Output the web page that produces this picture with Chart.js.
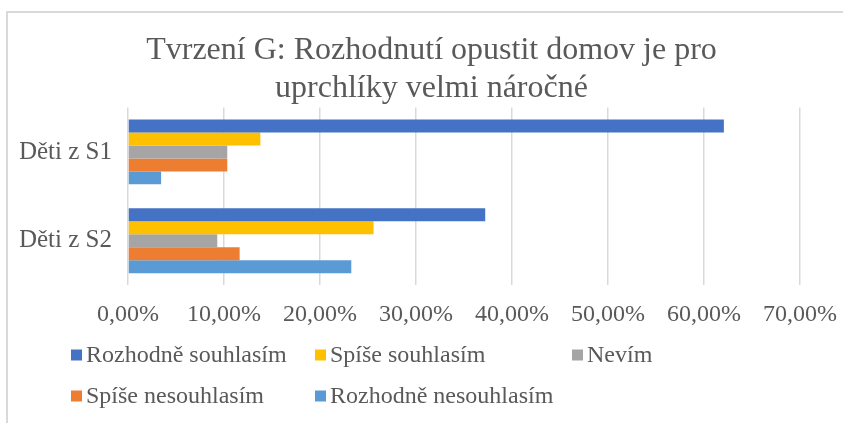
<!DOCTYPE html>
<html>
<head>
<meta charset="utf-8">
<script src="https://cdn.jsdelivr.net/npm/chart.js@4"></script>
<style>
  html, body { margin: 0; padding: 0; background: #fff; }
  #wrap { position: relative; width: 843px; height: 423px; overflow: hidden; }
  #frame { position: absolute; left: 6px; top: 11px; width: 900px; height: 500px; border: 2px solid #d9d9d9; box-sizing: border-box; }
  canvas { position: absolute; left: 0; top: 0; }
</style>
</head>
<body>
<div id="wrap">
  <div id="frame"></div>
  <canvas id="chart" width="843" height="423"></canvas>
</div>
<script>
// data
const categories = ['Děti z S1', 'Děti z S2'];
const seriesNames = ['Rozhodně souhlasím', 'Spíše souhlasím', 'Nevím', 'Spíše nesouhlasím', 'Rozhodně nesouhlasím'];
const rozhodneSouhlasim = [62.07, 37.21];
const spiseSouhlasim = [13.79, 25.58];
const nevim = [10.34, 9.30];
const spiseNesouhlasim = [10.34, 11.63];
const rozhodneNesouhlasim = [3.45, 23.26];
const colors = ['#4472C4', '#FFC000', '#A5A5A5', '#ED7D31', '#5B9BD5'];

const seriesValues = [rozhodneSouhlasim, spiseSouhlasim, nevim, spiseNesouhlasim, rozhodneNesouhlasim];
const font = 'Liberation Serif';
const grey = '#595959';

// legend laid out in a 3-column grid like the original
const legendCols = [71, 315, 572];
const legendRows = [355, 396];
const gridLegend = {
  id: 'gridLegend',
  afterDraw(chart) {
    const c = chart.ctx;
    c.save();
    c.font = '24px ' + font;
    c.textBaseline = 'middle';
    chart.data.datasets.forEach((ds, i) => {
      const x = legendCols[i % 3];
      const y = legendRows[Math.floor(i / 3)];
      c.fillStyle = ds.backgroundColor;
      c.fillRect(x, y - 5.5, 11, 11);
      c.fillStyle = grey;
      c.fillText(ds.label, x + 15, y + 1);
    });
    c.restore();
  },
};

const ctx = document.getElementById('chart').getContext('2d');
new Chart(ctx, {
  type: 'bar',
  data: {
    labels: categories,
    datasets: seriesNames.map((name, i) => ({
      label: name,
      data: seriesValues[i],
      backgroundColor: colors[i],
      borderWidth: 0,
      categoryPercentage: 0.73,
      barPercentage: 1.0,
    })),
  },
  options: {
    indexAxis: 'y',
    responsive: false,
    animation: false,
    layout: { padding: { left: 20, right: 0, top: 10, bottom: 79 } },
    plugins: {
      legend: { display: false },
      tooltip: { enabled: false },
      title: {
        display: true,
        text: ['Tvrzení G: Rozhodnutí opustit domov je pro', 'uprchlíky velmi náročné'],
        color: grey,
        font: { family: font, size: 32, weight: 'normal', lineHeight: 1.18 },
        padding: { top: 22, bottom: 0 },
      },
    },
    scales: {
      x: {
        min: 0,
        max: 70,
        ticks: {
          stepSize: 10,
          color: grey,
          font: { family: font, size: 24 },
          padding: 15,
          callback: (v) => v.toFixed(2).replace('.', ',') + '%',
        },
        grid: { color: '#d9d9d9', lineWidth: 1.5, drawTicks: false },
        border: { display: false },
        afterFit: (scale) => { scale.paddingLeft = 0; scale.paddingRight = 43; },
      },
      y: {
        ticks: { color: grey, font: { family: font, size: 25 }, padding: 16 },
        grid: { display: false, drawTicks: false },
        border: { display: false },
        afterFit: (scale) => { scale.width = 108; },
      },
    },
  },
  plugins: [gridLegend],
});
</script>
</body>
</html>
